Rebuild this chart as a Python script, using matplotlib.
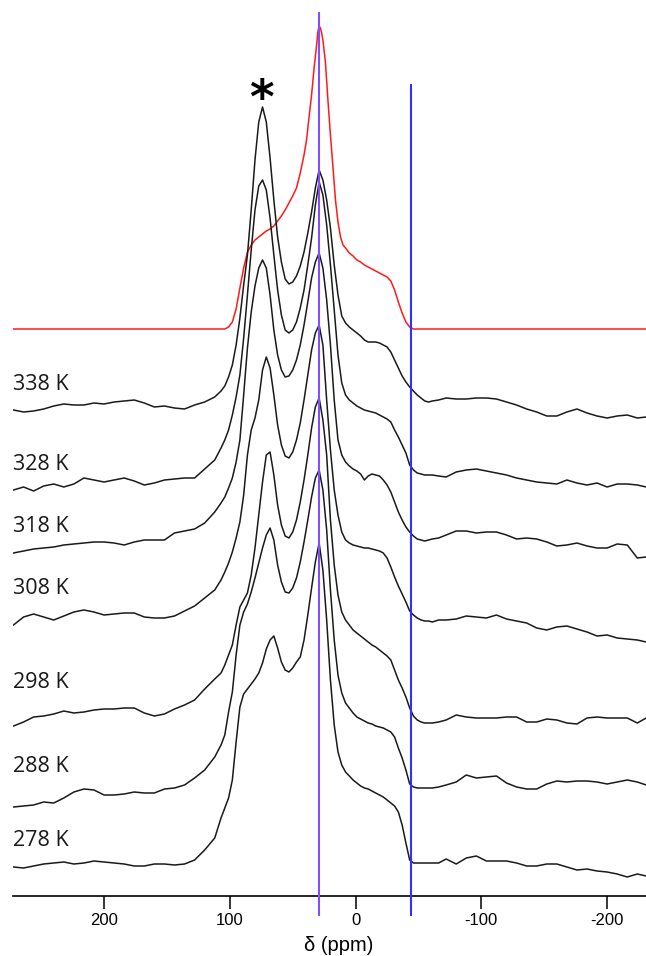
import matplotlib.pyplot as plt

# chemical shift grid (ppm) shared by the measured traces
ppm = [272, 264, 256, 248, 240, 232, 224, 216, 208, 200, 192, 184, 176, 168,
       160, 152, 144, 136, 128, 120, 112, 107,
       104, 101, 98, 95, 92, 89, 86, 83, 80, 77, 74, 71, 68, 65, 62, 59, 56,
       53, 50, 47, 44, 41, 38, 35, 32, 29, 26, 23, 20, 17, 14, 11, 8, 5, 2,
       -1, -4, -7, -10, -13, -16, -19, -22, -25, -28, -31, -34, -37, -40,
       -43, -46, -49, -52, -55, -58, -61,
       -66, -72, -80, -88, -96, -104, -112, -120, -128, -136, -144, -152,
       -160, -168, -176, -184, -192, -200, -208, -216, -224, -231]

# simulated powder pattern on its own grid
sim_ppm = [272, 104, 101, 98, 95, 92, 89, 86, 83, 80, 77, 74, 71, 68, 65, 62,
           59, 56, 53, 50, 47, 44, 41, 39, 37, 35, 33, 31, 30, 29, 28, 27, 26,
           24, 22, 20, 18, 16, 14, 12, 10, 8, 5, 2, -1, -4, -7, -10, -13, -16,
           -19, -22, -25, -28, -31, -34, -37, -40, -43, -46, -231]
sim = [0, 0, 2, 7, 20, 41, 61, 77, 84, 89, 92, 95, 98, 100, 103, 108, 113,
       119, 126, 133, 141, 156, 174, 189, 212, 234, 261, 284, 297, 303, 301,
       296, 289, 267, 229, 194, 162, 129, 107, 92, 84, 81, 76, 73, 69, 67, 64,
       62, 60, 58, 56, 54, 52, 48, 39, 27, 16, 7, 2, 0, 0]

# measured spectra, intensities in display units
spec_338 = [0, -2, -1, 1, 4, 6, 5, 5, 7, 6, 8, 9, 10, 7, 3, 4, 2, 1, 5, 8, 13, 19,
            24, 33, 45, 65, 92, 125, 155, 200, 250, 288, 303, 288, 252, 210, 173,
            148, 131, 126, 128, 134, 144, 158, 177, 198, 222, 240, 230, 210, 182,
            145, 115, 94, 87, 83, 80, 77, 74, 70, 68, 68, 68, 67, 65, 63, 58, 50,
            42, 34, 28, 23, 19, 15, 12, 9, 8, 9,
            10, 12, 11, 11, 12, 12, 11, 8, 5, 1, -2, -6, -6, -2, 1, -3, -6, -8,
            -6, -5, -8, -7]
spec_328 = [0, 3, -1, 4, 6, 3, 6, 12, 10, 8, 10, 12, 9, 5, 7, 10, 11, 12, 12, 21, 30, 42,
            50, 60, 75, 93, 115, 152, 195, 240, 280, 304, 310, 300, 272, 235, 200,
            175, 160, 157, 160, 168, 182, 200, 225, 252, 285, 308, 295, 265, 225,
            180, 135, 107, 95, 90, 87, 84, 82, 80, 79, 78, 77, 75, 73, 71, 68, 60,
            53, 45, 37, 25, 20, 17, 16, 15, 15, 15,
            14, 13, 18, 20, 21, 19, 17, 15, 12, 10, 8, 7, 6, 10, 7, 5, 7, 3, 6, 6, 5, 3]
spec_318 = [0, 2, 4, 5, 6, 8, 9, 10, 11, 11, 10, 8, 11, 13, 13, 13, 20, 22, 24, 30, 41, 50,
            56, 65, 75, 91, 113, 158, 205, 241, 267, 285, 293, 285, 258, 223, 198,
            183, 176, 177, 183, 193, 208, 228, 251, 275, 291, 300, 285, 253, 208,
            153, 113, 98, 91, 87, 84, 82, 79, 73, 77, 79, 78, 77, 73, 68, 61, 51,
            41, 33, 26, 21, 17, 14, 13, 12, 13, 14,
            15, 18, 22, 22, 20, 21, 21, 18, 14, 15, 14, 11, 7, 8, 10, 7, 5, 5, 9, 8, -5, -4]
spec_308 = [0, 8, 11, 8, 5, 9, 13, 15, 13, 10, 11, 12, 12, 8, 7, 7, 9, 14, 19, 27, 35, 45,
            53, 62, 73, 87, 103, 130, 170, 195, 207, 225, 255, 268, 257, 230, 200,
            180, 169, 167, 173, 185, 202, 225, 250, 275, 292, 300, 280, 225, 175,
            135, 110, 93, 85, 82, 80, 79, 78, 77, 77, 76, 75, 74, 72, 67, 58, 48,
            39, 31, 23, 14, 10, 7, 5, 4, 4, 3,
            5, 5, 6, 9, 8, 7, 10, 6, 4, 2, -3, -5, -2, -1, -4, -7, -11, -10, -13,
            -14, -15, -17]
spec_298 = [0, 4, 9, 10, 12, 15, 13, 14, 16, 17, 17, 18, 18, 13, 10, 12, 17, 21, 26, 37, 47, 53,
            61, 71, 81, 101, 119, 126, 133, 151, 178, 211, 244, 271, 274, 251, 221,
            201, 190, 188, 194, 206, 224, 246, 271, 298, 319, 328, 306, 271, 206,
            161, 131, 114, 106, 101, 96, 93, 90, 87, 84, 81, 79, 76, 73, 70, 66, 56,
            46, 38, 29, 18, 10, 6, 4, 3, 3, 3,
            4, 6, 11, 9, 8, 8, 8, 9, 9, 4, 4, 7, 6, 3, 2, 8, 9, 8, 8, 8, 3, 8]
spec_288 = [0, 1, 2, 5, 4, 9, 15, 18, 17, 12, 12, 13, 15, 14, 14, 18, 19, 22, 29, 37, 50, 62,
            72, 95, 115, 152, 182, 195, 203, 215, 229, 244, 259, 272, 279, 267, 242,
            225, 215, 214, 219, 229, 245, 265, 287, 310, 329, 337, 317, 277, 217,
            167, 132, 114, 104, 99, 94, 90, 88, 86, 84, 83, 81, 80, 79, 77, 75, 70,
            59, 49, 37, 23, 20, 19, 19, 19, 19, 19,
            20, 22, 25, 32, 29, 30, 31, 24, 20, 18, 18, 23, 26, 25, 26, 26, 25, 23,
            25, 27, 25, 22]
spec_278 = [0, -1, 1, 3, 4, 5, 3, 4, 6, 5, 4, 3, 1, 1, 3, 3, 2, 3, 7, 17, 29, 49,
            59, 69, 87, 125, 160, 173, 178, 183, 188, 194, 204, 218, 227, 231, 219,
            205, 197, 195, 199, 205, 210, 227, 252, 279, 305, 324, 297, 247, 187,
            142, 115, 102, 95, 91, 87, 84, 81, 79, 78, 76, 74, 72, 70, 67, 64, 61,
            55, 42, 24, 7, 4, 4, 4, 4, 4, 4,
            4, 8, 3, 9, 11, 6, 6, 6, 4, 1, 1, 3, 3, 0, -3, -2, -4, -5, -7, -10, -7, -9]

spectra = [spec_338, spec_328, spec_318, spec_308, spec_298, spec_288, spec_278]
temps = ['338 K', '328 K', '318 K', '308 K', '298 K', '288 K', '278 K']
marker_ppm = [29, -44]
tick_vals = [200, 100, 0, -100, -200]
tick_text = ['200', '100', '0', '-100', '-200']

# stacking
offsets = [486, 406, 343, 271, 170, 89, 29]
label_y = [512, 432, 369, 307, 214, 130, 55]
sim_offset = 567

fig = plt.figure(figsize=(6.46, 9.56), dpi=100)
ax = fig.add_axes([13 / 646, 60 / 956, 633 / 646, 896 / 956])

ax.plot(sim_ppm, [v + sim_offset for v in sim], color='#ff1a1a', lw=1.1, zorder=2)
for trace, off in zip(spectra, offsets):
    ax.plot(ppm, [v + off for v in trace], color='#1a1a1a', lw=1.1, zorder=3)

for t, y in zip(temps, label_y):
    ax.text(0.0, y, t, transform=ax.get_yaxis_transform(), ha='left', va='center',
            fontsize=15.5, family=['Open Sans', 'DejaVu Sans'], color='#1a1a1a')

# reference lines
ax.plot([marker_ppm[0]] * 2, [-19, 883], color='#8050ff', lw=1.5, zorder=4, clip_on=False)
ax.plot([marker_ppm[1]] * 2, [-19, 811], color='#3030ff', lw=1.5, zorder=4, clip_on=False)

ax.text(75, 796, '*', ha='center', va='center', fontsize=34, fontweight='bold',
        color='black')

ax.set_xlim(272.4, -230.9)
ax.set_ylim(0, 896)
for side in ['top', 'right', 'left']:
    ax.spines[side].set_visible(False)
ax.spines['bottom'].set_linewidth(1.2)
ax.set_yticks([])
ax.set_xticks(tick_vals)
ax.set_xticklabels(tick_text, family=['Liberation Sans', 'DejaVu Sans'], fontsize=12)
ax.tick_params(axis='x', length=9, width=1.1, pad=3)
ax.set_xlabel('δ (ppm)', family=['Liberation Sans', 'DejaVu Sans'], fontsize=14.5)
ax.xaxis.set_label_coords(0.515, -0.045)
ax.patch.set_alpha(0)

fig.savefig('out.png', dpi=100)
